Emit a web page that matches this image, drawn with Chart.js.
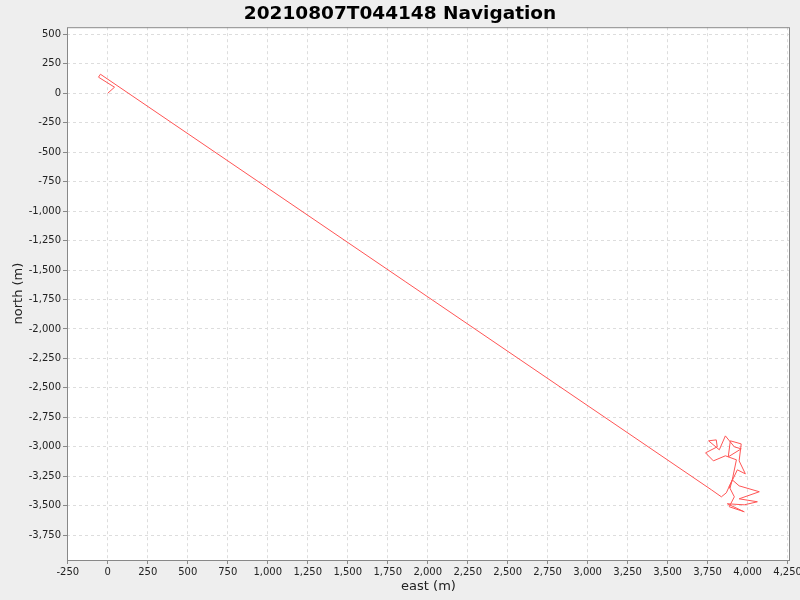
<!DOCTYPE html>
<html>
<head>
<meta charset="utf-8">
<script src="https://cdn.jsdelivr.net/npm/chart.js@4.4.0/dist/chart.umd.min.js"></script>
<style>
  html, body { margin: 0; padding: 0; background: #eeeeee; }
  #wrap { width: 800px; height: 600px; }
</style>
</head>
<body>
<div id="wrap"><canvas id="navChart"></canvas></div>
<script>
const chartTitle = '20210807T044148 Navigation';
const eastLabel = 'east (m)';
const northLabel = 'north (m)';

// track (metres)
const eastValues = [0, 42, -58, -46, 3773, 3836, 3867, 3904, 3947, 4073, 3947, 4061, 3979, 3873, 3979, 3885, 3917, 3885, 3936, 3986, 3947, 3960, 3892, 3879, 3960, 3917, 3861, 3823, 3756, 3804, 3810, 3737, 3786, 3861, 3930, 3904, 3890];
const northValues = [0, 51, 136, 161, -3364, -3424, -3390, -3280, -3331, -3381, -3441, -3466, -3492, -3483, -3551, -3508, -3424, -3339, -3195, -3229, -3119, -2975, -2949, -3085, -3017, -3000, -2907, -3025, -2949, -2941, -3000, -3051, -3119, -3076, -3110, -3280, -3350];

const eastTicks = [-250, 0, 250, 500, 750, 1000, 1250, 1500, 1750, 2000, 2250, 2500, 2750, 3000, 3250, 3500, 3750, 4000, 4250];
const northTicks = [500, 250, 0, -250, -500, -750, -1000, -1250, -1500, -1750, -2000, -2250, -2500, -2750, -3000, -3250, -3500, -3750];

const eastRange = [-255, 4265];
const northRange = [-3960, 560];

const points = eastValues.map((e, i) => ({ x: e, y: northValues[i] }));

const useTicks = (list) => (scale) => {
  scale.ticks = list.map((v) => ({ value: v }));
};
const fmt = (v) => Number(v).toLocaleString('en-US');

const plotFrame = {
  id: 'plotFrame',
  beforeDraw(chart) {
    const { ctx, chartArea: a } = chart;
    ctx.save();
    ctx.fillStyle = '#ffffff';
    ctx.fillRect(a.left, a.top, a.right - a.left, a.bottom - a.top);
    ctx.restore();
  },
  afterDraw(chart) {
    const { ctx, chartArea: a } = chart;
    ctx.save();
    ctx.strokeStyle = '#888888';
    ctx.lineWidth = 1;
    ctx.strokeRect(a.left + 0.5, a.top + 0.5, a.right - a.left - 1, a.bottom - a.top);
    ctx.restore();
  },
};

const tickFont = { family: 'DejaVu Sans', size: 10 };

new Chart(document.getElementById('navChart'), {
  type: 'scatter',
  data: {
    datasets: [
      {
        label: 'track',
        data: points,
        showLine: true,
        borderColor: '#ff5555',
        borderWidth: 1,
        pointRadius: 0,
        tension: 0,
      },
    ],
  },
  options: {
    responsive: true,
    maintainAspectRatio: false,
    animation: false,
    layout: { padding: 0 },
    plugins: {
      legend: { display: false },
      tooltip: { enabled: false },
      title: {
        display: true,
        text: chartTitle,
        color: '#000000',
        font: { family: 'DejaVu Sans', size: 18.5, weight: 'bold' },
        padding: { top: 3, bottom: 2 },
      },
    },
    scales: {
      x: {
        type: 'linear',
        min: eastRange[0],
        max: eastRange[1],
        afterBuildTicks: useTicks(eastTicks),
        afterFit: (s) => { s.height = 40; s.paddingLeft = 0; s.paddingRight = 10; },
        ticks: {
          color: '#222222',
          font: tickFont,
          maxRotation: 0,
          autoSkip: false,
          padding: 2,
          callback: fmt,
        },
        grid: {
          color: '#dddddd',
          tickColor: '#888888',
          tickLength: 4,
          tickBorderDash: [],
        },
        border: { display: false, dash: [3, 3] },
        title: {
          display: true,
          text: eastLabel,
          color: '#222222',
          font: { family: 'DejaVu Sans', size: 13 },
          padding: { top: 0, bottom: 6 },
        },
      },
      y: {
        type: 'linear',
        min: northRange[0],
        max: northRange[1],
        afterBuildTicks: useTicks(northTicks),
        afterFit: (s) => { s.width = 67; },
        ticks: {
          color: '#222222',
          font: tickFont,
          autoSkip: false,
          padding: 2,
          callback: fmt,
        },
        grid: {
          color: '#dddddd',
          tickColor: '#888888',
          tickLength: 4,
          tickBorderDash: [],
        },
        border: { display: false, dash: [3, 3] },
        title: {
          display: true,
          text: northLabel,
          color: '#222222',
          font: { family: 'DejaVu Sans', size: 13 },
          padding: { top: 11, bottom: 2 },
        },
      },
    },
  },
  plugins: [plotFrame],
});
</script>
</body>
</html>
